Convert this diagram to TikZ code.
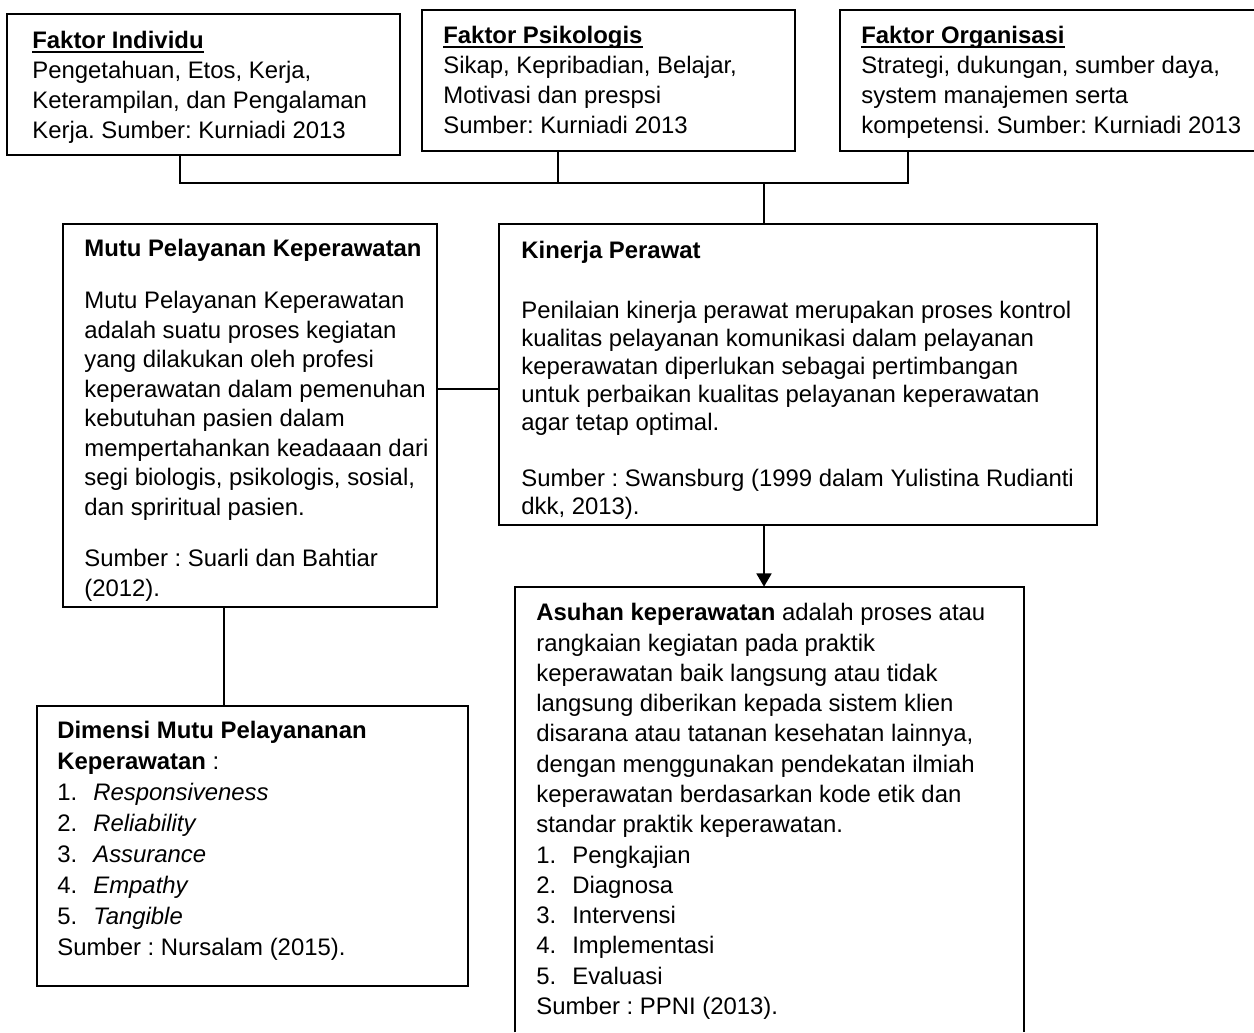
\documentclass[tikz,border=0pt]{standalone}
\usepackage{fontspec}
\setmainfont{Liberation Sans}
\usetikzlibrary{positioning,fit,arrows.meta}
\newlength\ulwd
\newcommand\ulttl[1]{\settowidth\ulwd{\textbf{#1}}\textbf{#1}\hspace{-\ulwd}\rule[-2.3pt]{\ulwd}{1.1pt}}
\newcommand\itm[1]{\makebox[0.72cm][l]{#1}}
\tikzset
{
    infobox/.style   = {rectangle, draw=black, line width=1.1pt, inner sep=0pt},
    bareframe/.style = {rectangle, inner sep=0pt},
    infotext/.style  = {anchor=north west, align=left, inner sep=0pt, font=\fontsize{13.6}{#1}\selectfont\frenchspacing},
    infotext/.default = 17.07pt,
    connector/.style = {line width=1.1pt},
    arrowline/.style = {line width=1.1pt, -{Triangle[width=8.5pt,length=7.5pt]}}
}
\begin{document}
\frenchspacing
\begin{tikzpicture}[x=0.02cm, y=-0.02cm]
   \useasboundingbox (0,0) rectangle (1254,1032);

   % faktor boxes on top
   \node (fi) [infobox, fit={(7,14) (400,155)}] {};
   \node (fp) [infobox, fit={(422,10) (795,151)}] {};
   \node (fo) [bareframe, fit={(840,10) (1254,151)}] {};
   \draw[connector] (fo.north east) -- (fo.north west) -- (fo.south west) -- (fo.south east);

   \node (fitx) [infotext] at (32,27.4)  {\strut\ulttl{Faktor Individu}\\ Pengetahuan, Etos, Kerja,\\ Keterampilan, dan Pengalaman\\ Kerja. Sumber: Kurniadi 2013};
   \node (fptx) [infotext] at (443,22.4) {\strut\ulttl{Faktor Psikologis}\\ Sikap, Kepribadian, Belajar,\\ Motivasi dan prespsi\\ Sumber: Kurniadi 2013};
   \node (fotx) [infotext] at (861,22.4) {\strut\ulttl{Faktor Organisasi}\\ Strategi, dukungan, sumber daya,\\ system manajemen serta\\ kompetensi. Sumber: Kurniadi 2013};

   % middle row
   \node (mp) [infobox, fit={(63,224) (437,607)}] {};
   \node (kp) [infobox, fit={(499,224) (1097,525)}] {};

   \node (mptx) [infotext=16.8pt] at (84,235.8) {\strut\textbf{Mutu Pelayanan Keperawatan}\\[12.8pt]
      Mutu Pelayanan Keperawatan\\ adalah suatu proses kegiatan\\ yang dilakukan oleh profesi\\
      keperawatan dalam pemenuhan\\ kebutuhan pasien dalam\\ mempertahankan keadaaan dari\\
      segi biologis, psikologis, sosial,\\ dan spriritual pasien.\\[12.5pt]
      Sumber : Suarli dan Bahtiar\\ (2012).};
   \node (kptx) [infotext=15.93pt] at (521,238.8) {\strut\textbf{Kinerja Perawat}\\[18.2pt]
      Penilaian kinerja perawat merupakan proses kontrol\\ kualitas pelayanan komunikasi dalam pelayanan\\
      keperawatan diperlukan sebagai pertimbangan\\ untuk perbaikan kualitas pelayanan keperawatan\\
      agar tetap optimal.\\[15.6pt]
      Sumber : Swansburg (1999 dalam Yulistina Rudianti\\ dkk, 2013).};

   % bottom row
   \node (dm) [infobox, fit={(37,706) (468,986)}] {};
   \node (ak) [bareframe, fit={(515,587) (1024,1032)}] {};
   \draw[connector] (ak.south west) -- (ak.north west) -- (ak.north east) -- (ak.south east);

   \node (dmtx) [infotext=17.64pt] at (57,716.7) {\strut\textbf{Dimensi Mutu Pelayananan}\\ \textbf{Keperawatan} :\\
      \itm{1.}\textit{Responsiveness}\\ \itm{2.}\textit{Reliability}\\ \itm{3.}\textit{Assurance}\\
      \itm{4.}\textit{Empathy}\\ \itm{5.}\textit{Tangible}\\ Sumber : Nursalam (2015).};
   \node (aktx) [infotext=17.24pt] at (536,599.2) {\strut\textbf{Asuhan keperawatan} adalah proses atau\\
      rangkaian kegiatan pada praktik\\ keperawatan baik langsung atau tidak\\
      langsung diberikan kepada sistem klien\\ disarana atau tatanan kesehatan lainnya,\\
      dengan menggunakan pendekatan ilmiah\\ keperawatan berdasarkan kode etik dan\\
      standar praktik keperawatan.\\ \itm{1.}Pengkajian\\ \itm{2.}Diagnosa\\ \itm{3.}Intervensi\\
      \itm{4.}Implementasi\\ \itm{5.}Evaluasi\\ Sumber : PPNI (2013).};

   % connectors
   \coordinate (bi) at (180,183);
   \coordinate (bp) at (558,183);
   \coordinate (bo) at (908,183);
   \coordinate (bk) at (764,183);
   \coordinate (lk) at (470,389);
   \coordinate (md) at (224,650);

   \draw[connector] (fi.south -| bi) -- (bi) -- (bo) -- (fo.south -| bo);
   \draw[connector] (fp.south -| bp) -- (bp);
   \draw[connector] (bk) -- (kp.north -| bk);
   \draw[connector] (mp.east |- lk) -- (kp.west |- lk);
   \draw[connector] (mp.south -| md) -- (dm.north -| md);
   \draw[arrowline] (kp.south -| bk) -- (ak.north -| bk);
\end{tikzpicture}
\end{document}
